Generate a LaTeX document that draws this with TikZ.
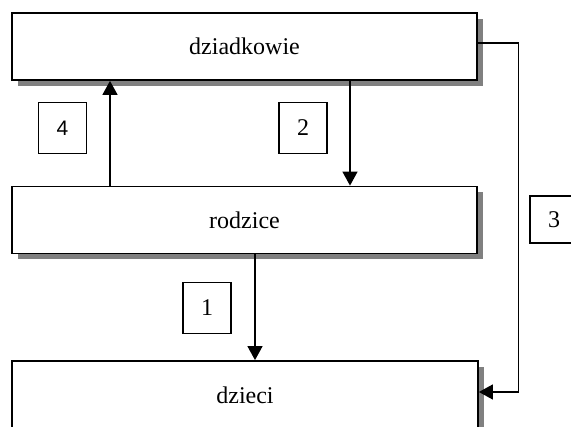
\documentclass[tikz,border=0pt]{standalone}
\usepackage{fontspec}
\setmainfont{Liberation Serif}
\newfontfamily\numsans{Liberation Sans}
\usetikzlibrary{arrows.meta,shadows}
\begin{document}
\begin{tikzpicture}[x=1pt,y=-1pt,
  bigbox/.style={draw=black,line width=1.8pt,fill=white,inner sep=0pt,
    minimum width=465pt,minimum height=67pt,
    font=\fontsize{24}{28}\selectfont,
    drop shadow={shadow xshift=6pt,shadow yshift=-6pt,fill=black!50,opacity=1}},
  numbox/.style={draw=black,line width=1.2pt,fill=white,inner sep=0pt,
    minimum width=48pt,minimum height=51pt,font=\fontsize{24}{28}\selectfont},
  arr/.style={line width=1.4pt,-{Triangle[length=14pt,width=15pt]}}]
\useasboundingbox (0,0) rectangle (571,427);
\clip (0,0) rectangle (571,427);
\fill[white] (0,0) rectangle (571,427);
\node[bigbox] (dz) at (244.5,46.5) {dziadkowie};
\node[bigbox] (rod) at (244.5,220) {rodzice};
\node[bigbox,minimum width=466pt,minimum height=68pt] (dzi) at (245,395) {dzieci};
\node[numbox,font=\numsans\fontsize{21}{25}\selectfont] (n4) at (62.5,128) {4};
\node[numbox] (n2) at (303,128) {2};
\node[numbox] (n1) at (207,308) {1};
\node[numbox,minimum height=47pt] (n3) at (554,219.5) {3};
\coordinate (x4) at (110,0);
\coordinate (x2) at (350,0);
\coordinate (x1) at (255,0);
\coordinate (c3a) at (518.5,43);
\coordinate (c3b) at (518.5,392);
\draw[arr] (rod.north -| x4) -- (dz.south -| x4);
\draw[arr] (dz.south -| x2) -- (rod.north -| x2);
\draw[arr] (rod.south -| x1) -- (dzi.north -| x1);
\draw[arr] (dz.east |- c3a) -- (c3a) -- (c3b) -- (dzi.east |- c3b);
\end{tikzpicture}
\end{document}
